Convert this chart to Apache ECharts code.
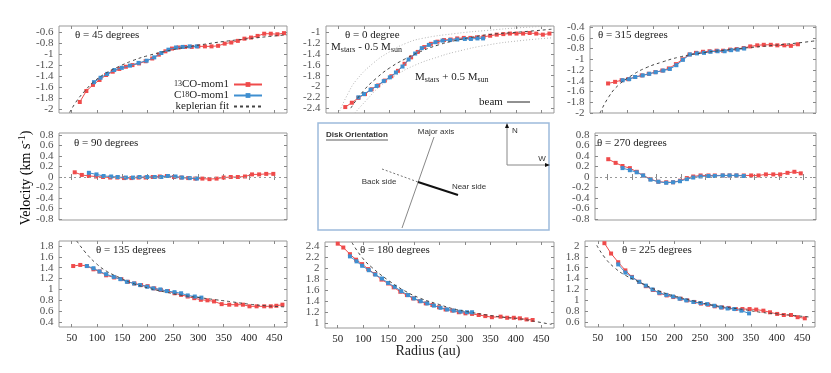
<!DOCTYPE html>
<html>
<head>
<meta charset="utf-8">
<script src="https://cdn.jsdelivr.net/npm/echarts@6/dist/echarts.min.js"></script>
<style>
  html, body { margin: 0; padding: 0; background: #fff; }
  #chart { width: 831px; height: 373px; }
</style>
</head>
<body>
<div id="chart"></div>
<script>
// tick values
var xTicks = [50, 100, 150, 200, 250, 300, 350, 400, 450];
var yTicks45 = [-2, -1.8, -1.6, -1.4, -1.2, -1, -0.8, -0.6];
var yTicks0 = [-2.4, -2.2, -2, -1.8, -1.6, -1.4, -1.2, -1];
var yTicks315 = [-2, -1.8, -1.6, -1.4, -1.2, -1, -0.8, -0.6, -0.4];
var yTicksMid = [-0.8, -0.6, -0.4, -0.2, 0, 0.2, 0.4, 0.6, 0.8];
var yTicks135 = [0.4, 0.6, 0.8, 1, 1.2, 1.4, 1.6, 1.8];
var yTicks180 = [1, 1.2, 1.4, 1.6, 1.8, 2, 2.2, 2.4];
var yTicks225 = [0.6, 0.8, 1, 1.2, 1.4, 1.6, 1.8, 2];

// theta = 45
var co13_45 = [[66,-1.87],[79,-1.67],[92,-1.56],[105,-1.47],[118,-1.38],[131,-1.32],[144,-1.27],[157,-1.23],[170,-1.20],[183,-1.17],[196,-1.13],[209,-1.08],[222,-1.01],[235,-0.95],[248,-0.90],[261,-0.88],[274,-0.87],[287,-0.87],[300,-0.86],[313,-0.86],[326,-0.86],[339,-0.85],[352,-0.81],[365,-0.79],[378,-0.76],[391,-0.72],[404,-0.70],[417,-0.67],[430,-0.63],[443,-0.63],[456,-0.64],[469,-0.62]];
var c18o_45 = [[94,-1.51],[107,-1.43],[120,-1.36],[134,-1.29],[149,-1.25],[165,-1.21],[182,-1.16],[198,-1.12],[213,-1.06],[227,-0.98],[241,-0.92],[256,-0.88],[269,-0.87],[283,-0.86],[297,-0.86]];
var kep_45 = [[46,-2.06],[60,-1.85],[75,-1.68],[94,-1.50],[115,-1.36],[140,-1.24],[170,-1.12],[200,-1.03],[240,-0.94],[280,-0.87],[320,-0.81],[360,-0.76],[400,-0.72],[440,-0.68],[475,-0.65]];

// theta = 0
var co13_0 = [[63,-2.38],[76,-2.30],[89,-2.21],[102,-2.14],[115,-2.05],[128,-1.98],[141,-1.89],[154,-1.81],[167,-1.71],[180,-1.58],[193,-1.46],[206,-1.36],[219,-1.27],[232,-1.21],[245,-1.17],[258,-1.14],[271,-1.13],[284,-1.11],[297,-1.10],[310,-1.10],[323,-1.09],[336,-1.08],[349,-1.06],[362,-1.04],[375,-1.03],[388,-1.02],[401,-1.02],[414,-1.02],[427,-1.01],[440,-1.02],[453,-1.04],[466,-1.02]];
var c18o_0 = [[89,-2.20],[100,-2.14],[113,-2.06],[125,-1.99],[139,-1.90],[151,-1.83],[163,-1.74],[176,-1.63],[188,-1.50],[201,-1.39],[214,-1.29],[228,-1.23],[241,-1.18],[255,-1.15],[270,-1.14],[284,-1.13],[299,-1.12],[311,-1.12],[324,-1.11],[335,-1.11]];
var kep_0 = [[74,-2.40],[98,-2.09],[124,-1.85],[150,-1.66],[183,-1.48],[215,-1.34],[247,-1.23],[280,-1.15],[312,-1.09],[345,-1.04],[410,-0.99],[470,-0.94]];
var mMinus_0 = [[52,-2.45],[69,-2.12],[85,-1.88],[118,-1.57],[150,-1.36],[183,-1.20],[215,-1.11],[280,-1.02],[345,-0.96],[410,-0.91],[470,-0.88]];
var mPlus_0 = [[82,-2.49],[105,-2.25],[131,-2.0],[163,-1.79],[202,-1.60],[247,-1.45],[280,-1.36],[345,-1.23],[410,-1.15],[470,-1.10]];

// theta = 315
var co13_315 = [[61,-1.45],[75,-1.42],[88,-1.39],[101,-1.37],[115,-1.33],[128,-1.30],[142,-1.27],[155,-1.24],[169,-1.21],[182,-1.17],[196,-1.09],[209,-1.00],[223,-0.91],[236,-0.88],[250,-0.86],[263,-0.85],[277,-0.84],[290,-0.84],[304,-0.82],[317,-0.81],[331,-0.79],[344,-0.76],[358,-0.74],[371,-0.73],[385,-0.73],[398,-0.74],[412,-0.74],[425,-0.75],[439,-0.72]];
var c18o_315 = [[90,-1.39],[103,-1.37],[115,-1.33],[130,-1.30],[143,-1.27],[156,-1.24],[171,-1.21],[184,-1.18],[197,-1.11],[210,-1.01],[224,-0.91],[238,-0.89],[252,-0.88],[265,-0.86],[279,-0.85],[293,-0.85],[306,-0.83],[319,-0.82],[332,-0.80]];
var kep_315 = [[45,-2.0],[63,-1.69],[83,-1.47],[110,-1.29],[136,-1.16],[169,-1.05],[202,-0.96],[236,-0.90],[302,-0.82],[368,-0.76],[435,-0.70],[478,-0.65]];

// theta = 90
var co13_90 = [[56,0.09],[70,0.04],[84,0.02],[98,0.01],[112,0.0],[126,-0.01],[140,-0.01],[154,-0.02],[168,-0.02],[182,-0.01],[196,-0.01],[210,0.0],[224,0.01],[238,0.02],[252,0.0],[266,-0.01],[280,-0.02],[294,-0.03],[308,-0.03],[322,-0.04],[336,-0.03],[350,-0.01],[364,0.0],[378,0.0],[392,0.01],[406,0.05],[420,0.05],[434,0.06],[448,0.06]];
var c18o_90 = [[84,0.08],[99,0.05],[113,0.02],[128,0.01],[141,0.0],[157,-0.01],[171,-0.01],[184,0.0],[199,0.0],[214,0.0],[227,0.0],[240,0.02],[255,0.01],[268,-0.01],[283,-0.02],[297,-0.03]];

// theta = 270
var co13_270 = [[52,0.34],[67,0.27],[81,0.21],[96,0.17],[110,0.10],[123,0.03],[138,-0.04],[154,-0.09],[170,-0.10],[184,-0.10],[198,-0.07],[212,-0.02],[225,0.01],[240,0.03],[256,0.03],[269,0.03],[285,0.03],[299,0.03],[313,0.03],[328,0.03],[343,0.03],[358,0.03],[373,0.05],[388,0.05],[402,0.05],[417,0.08],[431,0.10],[444,0.07]];
var c18o_270 = [[81,0.17],[96,0.13],[110,0.09],[123,0.03],[138,-0.05],[154,-0.09],[170,-0.11],[184,-0.10],[198,-0.08],[212,-0.04],[225,-0.01],[240,0.01],[256,0.02],[269,0.02],[285,0.03],[299,0.03],[313,0.03],[328,0.02]];

// theta = 135
var co13_135 = [[53,1.43],[67,1.45],[80,1.43],[93,1.37],[105,1.33],[118,1.26],[134,1.22],[148,1.19],[161,1.14],[174,1.11],[187,1.08],[200,1.06],[213,1.02],[226,0.99],[240,0.97],[253,0.93],[266,0.90],[279,0.87],[292,0.84],[305,0.81],[318,0.80],[331,0.78],[346,0.73],[361,0.72],[375,0.72],[388,0.72],[401,0.69],[415,0.69],[430,0.69],[443,0.69],[454,0.70],[466,0.72]];
var c18o_135 = [[80,1.43],[93,1.39],[105,1.33],[118,1.28],[133,1.23],[146,1.19],[159,1.14],[173,1.11],[185,1.08],[199,1.05],[211,1.02],[225,1.00],[238,0.97],[253,0.95],[266,0.93],[279,0.89],[293,0.87],[306,0.85]];
var kep_135 = [[60,1.89],[79,1.66],[98,1.48],[118,1.34],[144,1.22],[171,1.11],[203,1.02],[236,0.95],[269,0.89],[302,0.85],[335,0.81],[368,0.77],[400,0.73],[433,0.70],[470,0.68]];

// theta = 180
var co13_180 = [[50,2.44],[61,2.37],[74,2.25],[86,2.15],[98,2.07],[110,1.98],[123,1.89],[136,1.79],[149,1.72],[160,1.65],[173,1.57],[186,1.51],[198,1.45],[211,1.40],[223,1.36],[236,1.33],[249,1.29],[262,1.25],[275,1.23],[288,1.20],[301,1.18],[314,1.17],[327,1.15],[340,1.13],[353,1.11],[370,1.12],[383,1.10],[396,1.10],[408,1.09],[421,1.07],[433,1.06]];
var c18o_180 = [[74,2.21],[87,2.12],[98,2.04],[111,1.96],[124,1.88],[137,1.81],[149,1.73],[162,1.66],[175,1.58],[188,1.51],[200,1.45],[213,1.40],[226,1.36],[239,1.32],[252,1.28],[265,1.25],[278,1.23],[291,1.21],[304,1.20],[314,1.20]];
var kep_180 = [[78,2.46],[97,2.20],[116,2.02],[149,1.78],[181,1.59],[213,1.45],[246,1.35],[278,1.26],[311,1.20],[343,1.15],[375,1.11],[408,1.08],[440,1.03],[470,0.98]];

// theta = 225
var co13_225 = [[63,2.05],[76,1.86],[90,1.70],[104,1.55],[117,1.43],[131,1.34],[144,1.26],[158,1.19],[171,1.13],[185,1.09],[198,1.06],[212,1.03],[225,1.00],[239,0.97],[252,0.94],[266,0.92],[279,0.89],[293,0.87],[306,0.86],[320,0.84],[333,0.84],[347,0.84],[360,0.83],[374,0.81],[387,0.78],[401,0.75],[414,0.73],[428,0.73],[441,0.69],[455,0.67]];
var c18o_225 = [[90,1.66],[104,1.51],[117,1.42],[131,1.34],[144,1.27],[157,1.20],[170,1.14],[184,1.10],[197,1.07],[210,1.03],[223,1.00],[237,0.97],[251,0.95],[264,0.93],[278,0.90],[291,0.87],[304,0.85],[317,0.84],[331,0.81],[346,0.76]];
var kep_225 = [[48,2.01],[65,1.77],[84,1.59],[104,1.46],[137,1.31],[170,1.17],[204,1.07],[237,0.99],[270,0.92],[303,0.87],[336,0.83],[369,0.78],[402,0.75],[435,0.72],[468,0.69]];

var SERIF = 'Liberation Serif';
var SANS = 'Liberation Sans';
var RED = '#ef4b4b';
var BLUE = '#3f8fd0';
var X_MIN = 25, X_MAX = 475;

// panel layout: [left, top, width, height], y range, ticks
var panels = [
    { box: [59, 26, 228, 87], y: [-2.07, -0.49], ticks: yTicks45, xlab: false, d: [co13_45, c18o_45, kep_45] },
    { box: [326, 26, 228, 87], y: [-2.49, -0.88], ticks: yTicks0, xlab: false, d: [co13_0, c18o_0, kep_0] },
    { box: [590, 26, 226, 87], y: [-2.0, -0.38], ticks: yTicks315, xlab: false, d: [co13_315, c18o_315, kep_315] },
    { box: [59, 133, 228, 87], y: [-0.82, 0.84], ticks: yTicksMid, xlab: false, d: [co13_90, c18o_90, null], zero: true },
    { box: [595, 133, 221, 87], y: [-0.82, 0.84], ticks: yTicksMid, xlab: false, d: [co13_270, c18o_270, null], zero: true },
    { box: [59, 241, 228, 86], y: [0.31, 1.89], ticks: yTicks135, xlab: true, d: [co13_135, c18o_135, kep_135] },
    { box: [325, 242, 229, 86], y: [0.915, 2.47], ticks: yTicks180, xlab: true, d: [co13_180, c18o_180, kep_180] },
    { box: [585, 241, 230, 86], y: [0.51, 2.09], ticks: yTicks225, xlab: true, d: [co13_225, c18o_225, kep_225] }
];

var tickStyle = { show: true, inside: true, length: 3, lineStyle: { color: '#888' } };
var grids = [], xAxes = [], yAxes = [], series = [];
panels.forEach(function (p, i) {
    grids.push({ left: p.box[0], top: p.box[1], width: p.box[2], height: p.box[3],
        show: true, borderColor: '#999', borderWidth: 1 });
    xAxes.push({ type: 'value', gridIndex: i, min: X_MIN, max: X_MAX,
        axisLine: { show: false }, splitLine: { show: false },
        axisTick: Object.assign({ customValues: xTicks }, tickStyle),
        axisLabel: { show: p.xlab, customValues: xTicks, margin: 6,
            fontFamily: SERIF, fontSize: 11, color: '#222' } });
    yAxes.push({ type: 'value', gridIndex: i, min: p.y[0], max: p.y[1],
        axisLine: { show: false }, splitLine: { show: false },
        axisTick: Object.assign({ customValues: p.ticks }, tickStyle),
        axisLabel: { show: false } });

    // y tick labels, placed on the left edge through the panel's own scales
    series.push({ type: 'scatter', xAxisIndex: i, yAxisIndex: i, silent: true, clip: false,
        data: p.ticks.map(function (v) { return [X_MIN, v]; }),
        symbol: 'circle', symbolSize: 1, itemStyle: { color: 'rgba(255,255,255,0)' },
        labelLayout: { hideOverlap: false },
        label: { show: true, position: 'left', distance: 5,
            fontFamily: SERIF, fontSize: 11, color: '#222',
            formatter: function (q) { return String(q.value[1]); } } });

    var red = { name: '13CO-mom1', type: 'line', xAxisIndex: i, yAxisIndex: i, data: p.d[0],
        symbol: 'rect', symbolSize: 4, showSymbol: true, silent: true,
        lineStyle: { color: RED, width: 1 }, itemStyle: { color: RED }, z: 2 };
    if (p.zero) {
        red.markLine = { silent: true, symbol: 'none', label: { show: false },
            lineStyle: { color: '#999', type: [2, 3], width: 1.2 }, data: [{ yAxis: 0 }] };
    }
    series.push(red);
    series.push({ name: 'C18O-mom1', type: 'line', xAxisIndex: i, yAxisIndex: i, data: p.d[1],
        symbol: 'rect', symbolSize: 4, silent: true,
        lineStyle: { color: BLUE, width: 1 }, itemStyle: { color: BLUE }, z: 3 });
    if (p.d[2]) {
        series.push({ name: 'keplerian fit', type: 'line', xAxisIndex: i, yAxisIndex: i, data: p.d[2],
            symbol: 'none', smooth: true, silent: true,
            lineStyle: { color: '#444', width: 1, type: [3, 3] }, itemStyle: { color: '#444' }, z: 4 });
    }
});
// mirrored ticks on top and right edges
panels.forEach(function (p, i) {
    xAxes.push({ type: 'value', gridIndex: i, position: 'top', min: X_MIN, max: X_MAX,
        axisLine: { show: false }, splitLine: { show: false }, axisLabel: { show: false },
        axisTick: Object.assign({ customValues: xTicks }, tickStyle) });
    yAxes.push({ type: 'value', gridIndex: i, position: 'right', min: p.y[0], max: p.y[1],
        axisLine: { show: false }, splitLine: { show: false }, axisLabel: { show: false },
        axisTick: Object.assign({ customValues: p.ticks }, tickStyle) });
});
// mass range curves in the theta = 0 panel
[mMinus_0, mPlus_0].forEach(function (d) {
    series.push({ name: 'mass', type: 'line', xAxisIndex: 1, yAxisIndex: 1, data: d,
        symbol: 'none', smooth: true, silent: true,
        lineStyle: { color: '#b5b5b5', width: 1, type: [1, 2] }, z: 1 });
});

var rich = {
    t: { fontFamily: SERIF, fontSize: 11, color: '#222', lineHeight: 14 },
    sup: { fontFamily: SERIF, fontSize: 8, color: '#222', lineHeight: 7, verticalAlign: 'top' },
    sub: { fontFamily: SERIF, fontSize: 8, color: '#222', lineHeight: 7, verticalAlign: 'bottom' },
    big: { fontFamily: SERIF, fontSize: 14, color: '#222', lineHeight: 18 },
    bsup: { fontFamily: SERIF, fontSize: 10, color: '#222', lineHeight: 9, verticalAlign: 'top' }
};
var legendRich = {
    t: { fontFamily: SERIF, fontSize: 11, color: '#222', lineHeight: 10 },
    sup: { fontFamily: SERIF, fontSize: 8, color: '#222', lineHeight: 4, verticalAlign: 'top' }
};

function label(x, y, text, align) {
    return { type: 'text', x: x, y: y, silent: true,
        style: { text: text, rich: rich, fontFamily: SERIF, fontSize: 11, fill: '#222',
            align: align || 'left', verticalAlign: 'middle' } };
}
function sans(x, y, text, align, bold) {
    return { type: 'text', x: x, y: y, silent: true,
        style: { text: text, fontFamily: SANS, fontSize: 8, fontWeight: bold ? 'bold' : 'normal',
            fill: '#333', align: align || 'center', verticalAlign: 'middle' } };
}
function seg(x1, y1, x2, y2, color, w, dash) {
    return { type: 'line', silent: true, shape: { x1: x1, y1: y1, x2: x2, y2: y2 },
        style: { stroke: color, lineWidth: w, lineDash: dash || null } };
}

var graphics = [
    label(75, 35, '{t|θ = 45 degrees}'),
    label(345, 35, '{t|θ = 0 degree}'),
    label(331, 47, '{t|M}{sub|stars}{t| - 0.5 M}{sub|sun}'),
    label(415, 77, '{t|M}{sub|stars}{t| + 0.5 M}{sub|sun}'),
    label(479, 102, '{t|beam}'),
    seg(507, 102, 530, 102, '#222', 1),
    label(598, 35, '{t|θ = 315 degrees}'),
    label(74, 143, '{t|θ = 90 degrees}'),
    label(597, 143, '{t|θ = 270 degrees}'),
    label(96, 250, '{t|θ = 135 degrees}'),
    label(360, 250, '{t|θ = 180 degrees}'),
    label(622, 250, '{t|θ = 225 degrees}'),
    { type: 'text', x: 26, y: 178, rotation: Math.PI / 2, silent: true,
      style: { text: '{big|Velocity (km s}{bsup|-1}{big|)}', rich: rich, align: 'center', verticalAlign: 'middle' } },
    { type: 'text', x: 428, y: 351, silent: true,
      style: { text: 'Radius (au)', fontFamily: SERIF, fontSize: 14, fill: '#222', align: 'center', verticalAlign: 'middle' } },
    // disk orientation sketch
    { type: 'rect', silent: true, shape: { x: 318, y: 123, width: 231, height: 107 },
      style: { fill: 'none', stroke: '#9dbbdc', lineWidth: 1.5 } },
    sans(326, 135, 'Disk Orientation', 'left', true),
    seg(326, 140, 388, 140, '#333', 0.8),
    sans(436, 132, 'Major axis'),
    seg(434, 137, 402, 228, '#888', 1),
    seg(382, 169, 418, 182, '#777', 1, [2, 2]),
    seg(418, 182, 458, 195, '#111', 2),
    sans(379, 182, 'Back side'),
    sans(469, 187, 'Near side'),
    seg(507, 165, 507, 126, '#888', 1),
    { type: 'polygon', silent: true, shape: { points: [[507, 123], [505, 128], [509, 128]] }, style: { fill: '#111' } },
    sans(515, 131, 'N'),
    seg(507, 165, 546, 165, '#888', 1),
    { type: 'polygon', silent: true, shape: { points: [[550, 165], [545, 163], [545, 167]] }, style: { fill: '#111' } },
    sans(542, 159, 'W')
];

var chart = echarts.init(document.getElementById('chart'));
chart.setOption({
    backgroundColor: '#fff',
    animation: false,
    grid: grids,
    xAxis: xAxes,
    yAxis: yAxes,
    legend: {
        data: ['13CO-mom1', 'C18O-mom1', { name: 'keplerian fit', itemStyle: { color: 'rgba(0,0,0,0)', borderWidth: 0 } }],
        orient: 'vertical', align: 'right', right: 563, top: 74,
        itemWidth: 28, itemHeight: 6, itemGap: 0, selectedMode: false,
        textStyle: { fontFamily: SERIF, fontSize: 11, color: '#222', lineHeight: 10, rich: legendRich },
        formatter: function (n) {
            if (n === '13CO-mom1') return '{sup|13}{t|CO-mom1}';
            if (n === 'C18O-mom1') return '{t|C}{sup|18}{t|O-mom1}';
            return '{t|' + n + '}';
        }
    },
    graphic: graphics,
    series: series
});
window.addEventListener('resize', chart.resize);
</script>
</body>
</html>
